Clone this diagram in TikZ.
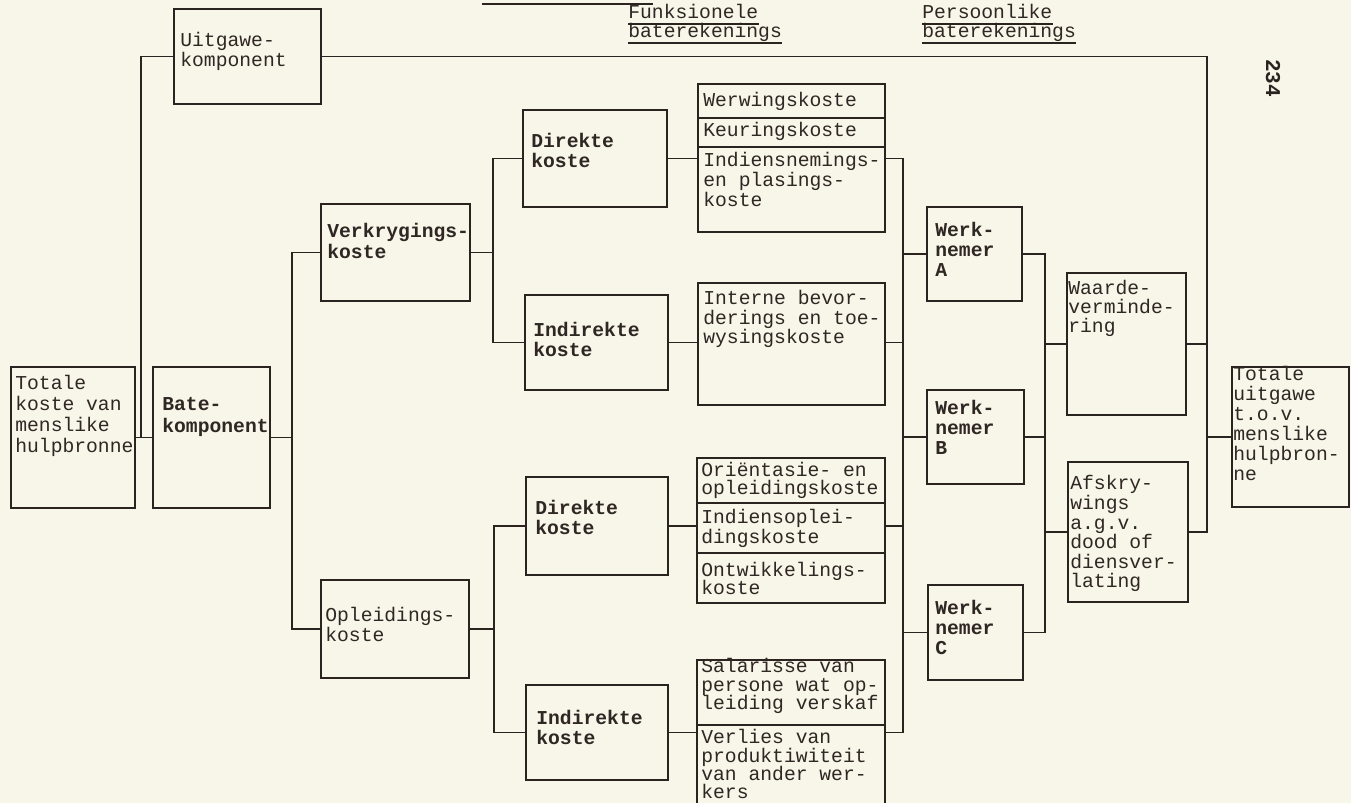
\documentclass[tikz,border=0pt]{standalone}
\usepackage{fontspec}
\newfontfamily\tw{Liberation Mono}
\usetikzlibrary{fit}
\definecolor{paper}{HTML}{F8F5E9}
\definecolor{ink}{HTML}{2B231F}
\definecolor{tink}{HTML}{2F2723}
\newcommand\bx[5]{\node[box, fit={(#2,#3) (#4,#5)}] (#1) {};}
\newcommand\tx[6][19.8]{\foreach \tline [count=\ti] in {#6} {\node[#3] (#2-\ti) at ({#4},{#5+#1*(\ti-1)}) {\tline};}}
\begin{document}
\begin{tikzpicture}[x=0.02cm,y=-0.02cm,
  box/.style={draw=ink, line width=1.3pt, inner sep=0pt},
  wire/.style={draw=ink, line width=1.1pt, line join=miter},
  txt/.style={anchor=west, inner sep=0pt, text height=5.6pt, text depth=0pt, font=\tw\fontsize{11.2}{12}\selectfont, text=tink},
  txtb/.style={txt, font=\tw\bfseries\fontsize{11.2}{12}\selectfont},
]
\fill[paper] (0,0) rectangle (1351,803);
\useasboundingbox (0,0) rectangle (1351,803);

% boxes
\bx{T1}{11}{367}{135}{508}
\bx{Uit}{174}{9}{321}{104}
\bx{Bate}{153}{367}{270}{508}
\bx{Verk}{321}{204}{470}{301}
\bx{Opl}{321}{580}{469}{678}
\bx{DK1}{523}{110}{667}{207}
\bx{IK1}{525}{295}{668}{390}
\bx{DK2}{526}{477}{668}{575}
\bx{IK2}{526}{685}{668}{780}
\bx{G1a}{698}{84}{885}{118}
\bx{G1b}{698}{118}{885}{147}
\bx{G1c}{698}{147}{885}{232}
\bx{G2}{698}{283}{885}{405}
\bx{G3a}{697}{458}{885}{503}
\bx{G3b}{697}{503}{885}{553}
\bx{G3c}{697}{553}{885}{603}
\bx{G4a}{697}{660}{885}{725}
\bx{G4b}{697}{725}{885}{812}
\bx{WA}{927}{207}{1022}{301}
\bx{WB}{927}{390}{1024}{484}
\bx{WC}{928}{585}{1023}{680}
\bx{Waa}{1067}{273}{1186}{415}
\bx{Afs}{1068}{462}{1188}{602}
\bx{TU}{1232}{367}{1349}{507}

% texts
\tx[20.7]{tT1}{txt}{15}{385}{Totale,koste van,menslike,hulpbronne}
\tx[20]{tUit}{txt}{180}{42}{Uitgawe-,komponent}
\tx[22]{tBate}{txtb}{162}{406}{Bate-,komponent}
\tx[21]{tVerk}{txtb}{327}{233}{Verkrygings-,koste}
\tx[20]{tOpl}{txt}{325}{617}{Opleidings-,koste}
\tx[20]{tDK1}{txtb}{531}{143}{Direkte,koste}
\tx[20]{tIK1}{txtb}{533}{332}{Indirekte,koste}
\tx[20]{tDK2}{txtb}{535}{510}{Direkte,koste}
\tx[20]{tIK2}{txtb}{536}{720}{Indirekte,koste}
\tx{tG1a}{txt}{703}{102}{Werwingskoste}
\tx{tG1b}{txt}{703}{132}{Keuringskoste}
\tx[20]{tG1c}{txt}{703}{162}{Indiensnemings-,en plasings-,koste}
\tx[19.5]{tG2}{txt}{703}{300}{Interne bevor-,derings en toe-,wysingskoste}
\tx[18]{tG3a}{txt}{701}{472}{Oriëntasie- en,opleidingskoste}
\tx[20]{tG3b}{txt}{701}{519}{Indiensoplei-,dingskoste}
\tx[18]{tG3c}{txt}{701}{572}{Ontwikkelings-,koste}
\tx[18.5]{tG4a}{txt}{701}{668}{Salarisse van,persone wat op-,leiding verskaf}
\tx[18.3]{tG4b}{txt}{701}{739}{Verlies van,produktiwiteit,van ander wer-,kers}
\tx[20]{tWA}{txtb}{935}{232}{Werk-,nemer,A}
\tx[20]{tWB}{txtb}{935}{410}{Werk-,nemer,B}
\tx[20]{tWC}{txtb}{935}{610}{Werk-,nemer,C}
\tx[19]{tWaa}{txt}{1068}{290}{Waarde-,verminde-,ring}
\tx[19.6]{tAfs}{txt}{1070}{485}{Afskry-,wings,a.g.v.,dood of,diensver-,lating}
\tx[20]{tTU}{txt}{1233}{376}{Totale,uitgawe,t.o.v.,menslike,hulpbron-,ne}

% headings
\node[txt] (h1) at (628,14) {Funksionele};
\node[txt] (h2) at (628,33) {baterekenings};
\node[txt] (h3) at (922,14) {Persoonlike};
\node[txt] (h4) at (922,33) {baterekenings};
\foreach \h in {h1,h2,h3,h4}{\draw[wire, line width=1pt] ([yshift=-2.6pt]\h.south west) -- ([yshift=-2.6pt]\h.south east);}
\coordinate (cutL) at (482,4);
\coordinate (cutR) at (653,4);
\draw[wire, line width=1.2pt] (cutL) -- (cutR);
\node[font=\tw\bfseries\fontsize{12}{12}\selectfont, rotate=-90, text=ink, inner sep=0pt] (pg) at (1273,78) {234};

% bus coordinates
\coordinate (b0) at (141,0);
\coordinate (b1) at (292,0);
\coordinate (b2) at (493,0);
\coordinate (b3) at (494,0);
\coordinate (b4) at (903,0);
\coordinate (b5) at (1045,0);
\coordinate (bR) at (1207,0);

% connectors
\draw[wire] (T1.east) -- (Bate.west);
\draw[wire] (Uit.west) -- (Uit.west -| b0) -- (T1.east -| b0);
\draw[wire] (Bate.east) -- (Bate.east -| b1);
\draw[wire] (Verk.west) -- (Verk.west -| b1) -- (Opl.west -| b1) -- (Opl.west);
\draw[wire] (Verk.east) -- (Verk.east -| b2);
\draw[wire] (DK1.west) -- (DK1.west -| b2) -- (IK1.west -| b2) -- (IK1.west);
\draw[wire] (Opl.east) -- (Opl.east -| b3);
\draw[wire] (DK2.west) -- (DK2.west -| b3) -- (IK2.west -| b3) -- (IK2.west);
\draw[wire] (DK1.east) -- (DK1.east -| G1c.west);
\draw[wire] (IK1.east) -- (IK1.east -| G2.west);
\draw[wire] (DK2.east) -- (DK2.east -| G3b.west);
\draw[wire] (IK2.east) -- (IK2.east -| G4b.west);
\draw[wire] (DK1.east -| G1c.east) -- (DK1.east -| b4) -- (IK2.east -| b4) -- (IK2.east -| G4b.east);
\draw[wire] (IK1.east -| G2.east) -- (IK1.east -| b4);
\draw[wire] (DK2.east -| G3b.east) -- (DK2.east -| b4);
\draw[wire] (WA.west -| b4) -- (WA.west);
\draw[wire] (WB.west -| b4) -- (WB.west);
\draw[wire] (WC.west -| b4) -- (WC.west);
\draw[wire] (WA.east) -- (WA.east -| b5) -- (WC.east -| b5) -- (WC.east);
\draw[wire] (WB.east) -- (WB.east -| b5);
\draw[wire] (Waa.west -| b5) -- (Waa.west);
\draw[wire] (Afs.west -| b5) -- (Afs.west);
\draw[wire] (Uit.east) -- (Uit.east -| bR) -- (Afs.east -| bR) -- (Afs.east);
\draw[wire] (Waa.east) -- (Waa.east -| bR);
\draw[wire] (TU.west -| bR) -- (TU.west);
\end{tikzpicture}
\end{document}
